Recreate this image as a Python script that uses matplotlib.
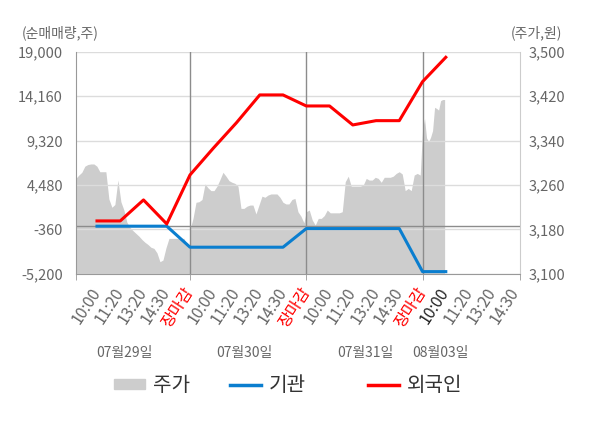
import numpy as np
import matplotlib
matplotlib.use('Agg')
import matplotlib.pyplot as plt
from matplotlib.patches import Patch
from matplotlib.lines import Line2D

plt.rcParams['font.family'] = ['Noto Sans CJK KR', 'DejaVu Sans']

# === DATA ===
tick_labels = ['10:00', '11:20', '13:20', '14:30', '장마감'] * 3 + ['10:00', '11:20', '13:20', '14:30']
dates = ['07월29일', '07월30일', '07월31일', '08월03일']
date_pos = [1.16, 6.35, 11.53, 14.76]

# net buying (shares) at each tick slot
foreign = [574, 574, 2861, 247, 5584, 8491, 11279, 14300, 14300,
           13098, 13098, 11029, 11497, 11497, 15744, 18400]
inst = [0, 0, 0, 0, -2290, -2290, -2290, -2290, -2290,
        -260, -260, -260, -260, -260, -4950, -4950]

# intraday price (won), one list per trading day
price_day1 = [3272, 3278, 3283, 3294, 3297, 3298, 3298, 3294, 3284, 3284, 3284, 3235, 3220,
              3225, 3269, 3230, 3215, 3193, 3184, 3178, 3173, 3168, 3162, 3157, 3153, 3148,
              3146, 3138, 3122, 3125, 3147, 3164, 3164, 3164, 3164, 3164, 3164, 3152, 3150]
price_day2 = [3180, 3200, 3229, 3230, 3234, 3262, 3255, 3250, 3250, 3258, 3270, 3283, 3276,
              3268, 3265, 3263, 3258, 3218, 3218, 3222, 3224, 3224, 3208, 3224, 3240, 3238,
              3242, 3244, 3244, 3244, 3238, 3229, 3226, 3226, 3234, 3236, 3212, 3204, 3192]
price_day3 = [3212, 3215, 3197, 3188, 3200, 3200, 3205, 3215, 3210, 3210, 3210, 3210, 3212,
              3266, 3276, 3258, 3258, 3258, 3258, 3260, 3272, 3269, 3269, 3274, 3272, 3265,
              3274, 3274, 3274, 3276, 3281, 3284, 3280, 3250, 3254, 3250, 3278, 3281, 3278]
price_day4 = [3359, 3380, 3345, 3338, 3346, 3358, 3400, 3398, 3395, 3412, 3414, 3414]
price_days = [price_day1, price_day2, price_day3, price_day4]
day_start = [-0.91, 4.0, 9.0, 14.0]
day_end = [4.0, 8.9, 13.9, 14.95]

left_ticks = [-5200, -360, 4480, 9320, 14160, 19000]
right_ticks = [3100, 3180, 3260, 3340, 3420, 3500]

# === BUILD SERIES ===
px = np.concatenate([np.linspace(s, e, len(p)) for s, e, p in zip(day_start, day_end, price_days)])
py = np.concatenate(price_days)
lx = np.arange(len(foreign))

# === PLOT ===
fig = plt.figure(figsize=(6, 4.28), dpi=100)
ax = fig.add_axes([0.126, 0.36, 0.741, 0.519])
ax2 = ax.twinx()
ax.set_zorder(ax2.get_zorder() + 1)
ax.patch.set_visible(False)
ax2.set_facecolor('#f5f5f5')

ax2.fill_between(px, 3100, py, color='#cdcdcd', linewidth=0)
ax2.set_ylim(3100, 3500)
ax2.set_yticks(right_ticks)
ax2.set_yticklabels([f'{v:,}' for v in right_ticks])

ax.set_ylim(-5200, 19000)
ax.set_xlim(-0.92, 18.2)
ax.set_yticks(left_ticks)
ax.set_yticklabels([f'{v:,}' for v in left_ticks])
ax.grid(axis='y', color='#dcdcdc', linewidth=1)
ax.set_axisbelow(True)
ax.axhline(0, color='#8c8c8c', linewidth=1, zorder=2)
for s in [4, 9, 14]:
    ax.axvline(s, color='#8c8c8c', linewidth=1, zorder=2)

ax.plot(lx, inst, color='#0a7ecf', linewidth=2.2, zorder=3)
ax.plot(lx, foreign, color='#ff0000', linewidth=2.2, zorder=4)

# x ticks: labels at slots (major), marks at day borders (minor)
ax.xaxis.remove_overlapping_locs = False
ax.set_xticks(np.arange(len(tick_labels)))
ax.set_xticklabels(tick_labels, rotation=57, ha='right', va='center',
                   rotation_mode='anchor', fontsize=11.5, color='#666666')
ax.set_xticks([-0.92, 4, 9, 14, 18.2], minor=True)
ax.tick_params(axis='x', which='minor', length=4, color='#999999')
ax.tick_params(axis='x', which='major', length=0, pad=11)
for i, lbl in enumerate(ax.get_xticklabels()):
    if tick_labels[i] == '장마감':
        lbl.set_color('#ff0000')
    elif i == 15:
        lbl.set_color('#222222')

ax.tick_params(axis='y', length=0, pad=9, labelsize=10.5, labelcolor='#666666')
ax2.tick_params(axis='y', length=0, pad=6, labelsize=10.5, labelcolor='#666666')

ax.spines['top'].set_visible(False)
ax2.spines['top'].set_visible(False)
ax.spines['left'].set_color('#999999')
ax.spines['bottom'].set_color('#999999')
ax.spines['right'].set_visible(False)
ax2.spines['left'].set_visible(False)
ax2.spines['bottom'].set_visible(False)
ax2.spines['right'].set_color('#cccccc')

fig.text(0.037, 0.923, '(순매매량,주)', fontsize=10, color='#666666', va='center', ha='left')
fig.text(0.937, 0.923, '(주가,원)', fontsize=10, color='#666666', va='center', ha='right')

for d, p in zip(dates, date_pos):
    ax.text(p, -0.355, d, transform=ax.get_xaxis_transform(), ha='center', va='center',
            fontsize=10, color='#666666')

# legend entries placed one by one (uneven gaps in the original)
legend_items = [(Patch(color='#cdcdcd'), '주가', 0.190),
                (Line2D([0], [0], color='#0a7ecf', linewidth=2.5), '기관', 0.383),
                (Line2D([0], [0], color='#ff0000', linewidth=2.5), '외국인', 0.613)]
for h, lab, xpos in legend_items:
    fig.legend([h], [lab], loc='center left', bbox_to_anchor=(xpos, 0.099),
               frameon=False, fontsize=14.5, handlelength=1.55, handleheight=0.45,
               handletextpad=0.4, borderpad=0, borderaxespad=0, labelcolor='#333333')

fig.savefig('out.png', dpi=100)
